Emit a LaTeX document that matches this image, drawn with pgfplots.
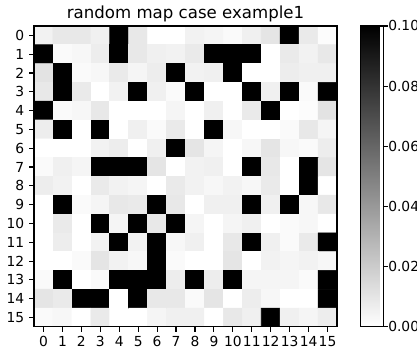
\documentclass[border=0pt]{standalone}
\usepackage{fontspec}
\setmainfont{DejaVu Sans}
\usepackage{pgfplots}
\pgfplotsset{compat=1.18}
\begin{document}
\begin{tikzpicture}
\begin{axis}[
  scale only axis, width=218.2bp, height=216.7bp,
  at={(0,0)}, anchor=south west,
  xmin=-0.5, xmax=15.5, ymin=-0.5, ymax=15.5, y dir=reverse,
  enlargelimits=false, axis on top,
  xtick={0,...,15}, ytick={0,...,15},
  tick align=outside, tick pos=left,
  major tick length=3.5bp,
  tick style={black, line width=0.8bp},
  axis line style={line width=0.8bp},
  tick label style={font=\fontsize{10}{12}\selectfont},
  /pgf/number format/assume math mode=true,
  colormap={greys}{rgb255=(255,255,255) rgb255=(0,0,0)},
  point meta min=0, point meta max=0.1,
  title={random map case example1},
  every axis title/.style={at={(0.5,1)}, anchor=base, yshift=5.5bp, font=\fontsize{12}{14}\selectfont},
  colorbar,
  colorbar shift/.style={xshift=16.6bp},
  colorbar style={
    scale only axis,
    width=16.6bp, height=216.7bp,
    at={(parent axis.north east)}, anchor=north west,
    ytick={0,0.02,0.04,0.06,0.08,0.1},
    scaled y ticks=false,
    yticklabel style={/pgf/number format/.cd, fixed, fixed zerofill, precision=2, assume math mode=true, /tikz/.cd, font=\fontsize{10}{12}\selectfont, inner sep=0pt},
    tick align=outside, major tick length=3.5bp,
    tick style={black, line width=0.8bp},
    axis line style={line width=0.8bp},
    ytick pos=right,
    yticklabel pos=right,
  },
]
\addplot[matrix plot*, mesh/cols=16, point meta=explicit] coordinates {
(0,0)[0.005] (1,0)[0.009] (2,0)[0.009] (3,0)[0.006] (4,0)[0.1] (5,0)[0.009] (6,0)[0] (7,0)[0] (8,0)[0.005] (9,0)[0.004] (10,0)[0.002] (11,0)[0.006] (12,0)[0.010] (13,0)[0.1] (14,0)[0.008] (15,0)[0.001]

(0,1)[0.1] (1,1)[0.002] (2,1)[0.003] (3,1)[0.007] (4,1)[0.1] (5,1)[0.009] (6,1)[0.006] (7,1)[0.005] (8,1)[0.008] (9,1)[0.1] (10,1)[0.1] (11,1)[0.1] (12,1)[0] (13,1)[0.008] (14,1)[0.005] (15,1)[0.009]

(0,2)[0.011] (1,2)[0.1] (2,2)[0.002] (3,2)[0.003] (4,2)[0.008] (5,2)[0.004] (6,2)[0.007] (7,2)[0.1] (8,2)[0.005] (9,2)[0.006] (10,2)[0.1] (11,2)[0] (12,2)[0] (13,2)[0.007] (14,2)[0.006] (15,2)[0.006]

(0,3)[0.009] (1,3)[0.1] (2,3)[0.008] (3,3)[0] (4,3)[0.005] (5,3)[0.1] (6,3)[0.006] (7,3)[0.002] (8,3)[0.1] (9,3)[0] (10,3)[0] (11,3)[0.1] (12,3)[0.006] (13,3)[0.1] (14,3)[0.002] (15,3)[0.1]

(0,4)[0.1] (1,4)[0.002] (2,4)[0.003] (3,4)[0.009] (4,4)[0] (5,4)[0] (6,4)[0] (7,4)[0.004] (8,4)[0] (9,4)[0.006] (10,4)[0] (11,4)[0.008] (12,4)[0.1] (13,4)[0] (14,4)[0.001] (15,4)[0.011]

(0,5)[0.007] (1,5)[0.1] (2,5)[0] (3,5)[0.1] (4,5)[0] (5,5)[0.006] (6,5)[0.002] (7,5)[0.008] (8,5)[0] (9,5)[0.1] (10,5)[0.003] (11,5)[0] (12,5)[0] (13,5)[0.002] (14,5)[0.009] (15,5)[0.004]

(0,6)[0] (1,6)[0] (2,6)[0] (3,6)[0.005] (4,6)[0.007] (5,6)[0] (6,6)[0.006] (7,6)[0.1] (8,6)[0.010] (9,6)[0.004] (10,6)[0] (11,6)[0.003] (12,6)[0.010] (13,6)[0.003] (14,6)[0.002] (15,6)[0.007]

(0,7)[0.002] (1,7)[0.006] (2,7)[0.004] (3,7)[0.1] (4,7)[0.1] (5,7)[0.1] (6,7)[0.010] (7,7)[0] (8,7)[0.005] (9,7)[0.006] (10,7)[0] (11,7)[0.1] (12,7)[0.009] (13,7)[0] (14,7)[0.1] (15,7)[0.010]

(0,8)[0.007] (1,8)[0.005] (2,8)[0] (3,8)[0.008] (4,8)[0.005] (5,8)[0.004] (6,8)[0] (7,8)[0.008] (8,8)[0.005] (9,8)[0.003] (10,8)[0.005] (11,8)[0.003] (12,8)[0.008] (13,8)[0] (14,8)[0.1] (15,8)[0]

(0,9)[0] (1,9)[0.1] (2,9)[0.002] (3,9)[0.004] (4,9)[0.009] (5,9)[0.008] (6,9)[0.1] (7,9)[0.009] (8,9)[0] (9,9)[0.006] (10,9)[0.006] (11,9)[0.1] (12,9)[0.006] (13,9)[0.1] (14,9)[0.003] (15,9)[0.009]

(0,10)[0] (1,10)[0.008] (2,10)[0] (3,10)[0.1] (4,10)[0.004] (5,10)[0.1] (6,10)[0.009] (7,10)[0.1] (8,10)[0.004] (9,10)[0] (10,10)[0.004] (11,10)[0.006] (12,10)[0] (13,10)[0.002] (14,10)[0.003] (15,10)[0]

(0,11)[0] (1,11)[0.007] (2,11)[0] (3,11)[0.005] (4,11)[0.1] (5,11)[0.005] (6,11)[0.1] (7,11)[0.003] (8,11)[0.006] (9,11)[0] (10,11)[0.009] (11,11)[0.1] (12,11)[0.006] (13,11)[0.002] (14,11)[0.008] (15,11)[0.1]

(0,12)[0] (1,12)[0] (2,12)[0.002] (3,12)[0.010] (4,12)[0.005] (5,12)[0.003] (6,12)[0.1] (7,12)[0.002] (8,12)[0] (9,12)[0] (10,12)[0.010] (11,12)[0] (12,12)[0.005] (13,12)[0.004] (14,12)[0.005] (15,12)[0.003]

(0,13)[0.002] (1,13)[0.1] (2,13)[0] (3,13)[0.002] (4,13)[0.1] (5,13)[0.1] (6,13)[0.1] (7,13)[0.007] (8,13)[0.1] (9,13)[0.007] (10,13)[0.1] (11,13)[0.004] (12,13)[0.004] (13,13)[0.004] (14,13)[0.002] (15,13)[0.1]

(0,14)[0.010] (1,14)[0.008] (2,14)[0.1] (3,14)[0.1] (4,14)[0] (5,14)[0.1] (6,14)[0.009] (7,14)[0.009] (8,14)[0.002] (9,14)[0.010] (10,14)[0] (11,14)[0.007] (12,14)[0.003] (13,14)[0] (14,14)[0] (15,14)[0.1]

(0,15)[0.002] (1,15)[0.003] (2,15)[0] (3,15)[0.008] (4,15)[0] (5,15)[0] (6,15)[0.004] (7,15)[0.006] (8,15)[0.006] (9,15)[0] (10,15)[0.009] (11,15)[0.006] (12,15)[0.1] (13,15)[0.006] (14,15)[0.004] (15,15)[0.007]
};
\end{axis}
\pgfresetboundingbox
\path[use as bounding box] (-24.5bp,-23.8bp) rectangle (275.8bp,235.4bp);
\end{tikzpicture}
\end{document}
